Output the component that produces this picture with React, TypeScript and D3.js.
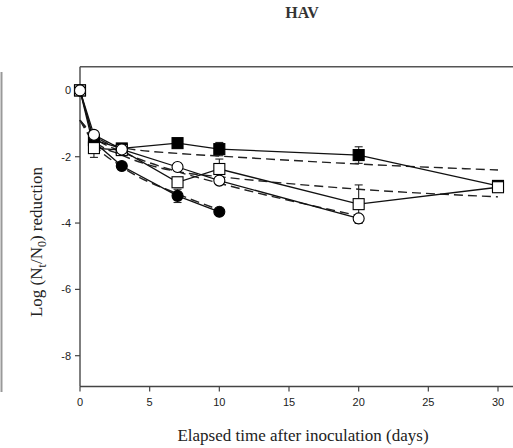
import React from "react";
import * as d3 from "d3";

const days = [0, 1, 3, 7, 10, 20, 30];

const filledCircle = [0, -1.55, -2.28, -3.18, -3.66];
const filledCircleErr = [0, 0.1, 0.08, 0.2, 0.05];

const filledSquare = [0, -1.5, -1.75, -1.59, -1.77, -1.95, -2.88];
const filledSquareErr = [0, 0.1, 0.05, 0.08, 0.2, 0.25, 0.15];

const openSquare = [0, -1.74, -1.8, -2.77, -2.37, -3.43, -2.92];
const openSquareErr = [0, 0.28, 0.1, 0.1, 0.3, 0.58, 0.15];

const openCircle = [0, -1.34, -1.78, -2.31, -2.72, -3.86];
const openCircleErr = [0, 0.08, 0.05, 0.05, 0.05, 0.1];

const fitDays = [0, 1, 3, 7, 10, 20, 30];
const fitFilledSquare = [-0.9, -1.35, -1.72, -1.9, -1.98, -2.22, -2.4];
const fitOpenSquare = [-0.9, -1.5, -1.95, -2.45, -2.6, -2.98, -3.21];
const fitOpenCircle = [-0.9, -1.4, -1.85, -2.45, -2.8, -3.78];
const fitFilledCircle = [-0.9, -1.6, -2.3, -3.12, -3.6];

const xTicks = [0, 5, 10, 15, 20, 25, 30];
const yTicks = [0, -2, -4, -6, -8];

export default function App() {
  const x = d3.scaleLinear().domain([0, 30]).range([80, 498]);
  const y = d3.scaleLinear().domain([0, -8]).range([90.4, 355.7]);
  const top = y(0.71);
  const bottom = y(-8.93);
  const left = 80;
  const right = 513;

  const line = d3
    .line<[number, number]>()
    .x((d) => x(d[0]))
    .y((d) => y(d[1]));
  const fitLine = d3
    .line<[number, number]>()
    .x((d) => x(d[0]))
    .y((d) => y(d[1]))
    .curve(d3.curveMonotoneX);

  const pts = (vals: number[], ds: number[] = days) =>
    vals.map((v, i) => [ds[i], v] as [number, number]);

  const fits = [fitFilledSquare, fitOpenSquare, fitOpenCircle, fitFilledCircle];

  const series = [
    { vals: filledCircle, err: filledCircleErr, shape: "circle", fill: "#000" },
    { vals: filledSquare, err: filledSquareErr, shape: "square", fill: "#000" },
    { vals: openSquare, err: openSquareErr, shape: "square", fill: "#fff" },
    { vals: openCircle, err: openCircleErr, shape: "circle", fill: "#fff" },
  ];

  return (
    <svg
      width={513}
      height={448}
      style={{ position: "absolute", left: 0, top: 0, background: "#fff" }}
    >
      <rect x={0} y={0} width={513} height={448} fill="#fff" />
      <line x1={1.5} x2={1.5} y1={72} y2={392} stroke="#999" strokeWidth={2} />
      <text
        x={302}
        y={18}
        textAnchor="middle"
        fontFamily="Liberation Serif"
        fontWeight="bold"
        fontSize={16}
        fill="#333"
      >
        HAV
      </text>
      {/* frame */}
      <line x1={left} x2={right} y1={top} y2={top} stroke="#555" strokeWidth={1.5} />
      <line x1={left} x2={left} y1={top} y2={bottom} stroke="#555" strokeWidth={1.5} />
      <line x1={left} x2={right} y1={bottom} y2={bottom} stroke="#444" strokeWidth={1.5} />
      {xTicks.map((t) => (
        <g key={"x" + t}>
          <line x1={x(t)} x2={x(t)} y1={bottom} y2={bottom + 5} stroke="#444" strokeWidth={1.2} />
          <text
            x={x(t)}
            y={bottom + 19}
            textAnchor="middle"
            fontFamily="Liberation Sans"
            fontSize={11}
            fill="#222"
          >
            {t}
          </text>
        </g>
      ))}
      {yTicks.map((t) => (
        <g key={"y" + t}>
          <line x1={left - 5} x2={left} y1={y(t)} y2={y(t)} stroke="#444" strokeWidth={1.2} />
          <text
            x={left - 9}
            y={y(t) + 4}
            textAnchor="end"
            fontFamily="Liberation Sans"
            fontSize={11}
            fill="#222"
          >
            {t}
          </text>
        </g>
      ))}
      <text
        x={303}
        y={441}
        textAnchor="middle"
        fontFamily="Liberation Serif"
        fontSize={17}
        fill="#222"
      >
        Elapsed time after inoculation (days)
      </text>
      <text
        transform={`translate(42,242) rotate(-90)`}
        textAnchor="middle"
        fontFamily="Liberation Serif"
        fontSize={17}
        fill="#222"
      >
        Log (N
        <tspan fontSize={12} dy={4}>t</tspan>
        <tspan dy={-4}>/N</tspan>
        <tspan fontSize={12} dy={4}>0</tspan>
        <tspan dy={-4}>) reduction</tspan>
      </text>
      {/* fits */}
      {fits.map((f, i) => (
        <path
          key={"f" + i}
          d={fitLine(pts(f, fitDays)) || ""}
          fill="none"
          stroke="#222"
          strokeWidth={1.4}
          strokeDasharray="9,5"
        />
      ))}
      {/* lines */}
      {series.map((s, i) => (
        <path
          key={"l" + i}
          d={line(pts(s.vals)) || ""}
          fill="none"
          stroke="#111"
          strokeWidth={1.3}
        />
      ))}
      {/* error bars */}
      {series.map((s, i) =>
        s.vals.map((v, j) =>
          s.err[j] > 0.12 ? (
            <g key={"e" + i + "-" + j} stroke="#222" strokeWidth={1.1}>
              <line x1={x(days[j])} x2={x(days[j])} y1={y(v + s.err[j])} y2={y(v - s.err[j])} />
              <line x1={x(days[j]) - 4} x2={x(days[j]) + 4} y1={y(v + s.err[j])} y2={y(v + s.err[j])} />
              <line x1={x(days[j]) - 4} x2={x(days[j]) + 4} y1={y(v - s.err[j])} y2={y(v - s.err[j])} />
            </g>
          ) : null
        )
      )}
      {/* markers */}
      {series.map((s, i) =>
        s.vals.map((v, j) =>
          s.shape === "circle" ? (
            <circle
              key={"m" + i + "-" + j}
              cx={x(days[j])}
              cy={y(v)}
              r={5.5}
              fill={s.fill}
              stroke="#000"
              strokeWidth={1.1}
            />
          ) : (
            <rect
              key={"m" + i + "-" + j}
              x={x(days[j]) - 5.5}
              y={y(v) - 5.5}
              width={11}
              height={11}
              fill={s.fill}
              stroke="#000"
              strokeWidth={1.1}
            />
          )
        )
      )}
    </svg>
  );
}
